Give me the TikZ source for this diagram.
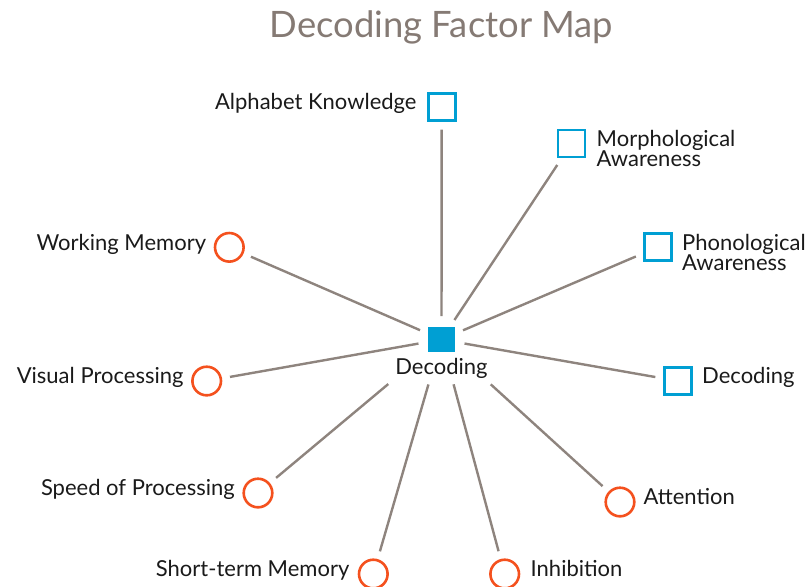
\documentclass[tikz,border=0pt]{standalone}
\usepackage{fontspec}
\setmainfont{Lato}
\usetikzlibrary{positioning}

\definecolor{decblue}{HTML}{009FD3}
\definecolor{facorange}{HTML}{F4511E}
\definecolor{linkgray}{HTML}{8E847E}
\definecolor{titlegray}{HTML}{857A74}
\definecolor{textblack}{HTML}{1A1A1A}

\tikzset{
    factsq/.style={draw=decblue, line width=1.3pt, fill=white, minimum size=13.5pt, inner sep=0pt},
    factci/.style={circle, draw=facorange, line width=1.3pt, fill=white, minimum size=14.3pt, inner sep=0pt},
    lbl/.style={font=\fontsize{11}{9.9}\selectfont, text=textblack, inner sep=0pt},
    link/.style={linkgray, line width=1.2pt, shorten <=4pt},
}

\begin{document}
\begin{tikzpicture}[x=0.5pt, y=-0.5pt]
    \useasboundingbox (0,0) rectangle (812,586);

    \node[font=\fontsize{18.2}{22}\selectfont, text=titlegray, anchor=base] (title) at (441.5,37.5) {Decoding Factor Map};

    % centre
    \node[circle, minimum size=23pt, inner sep=0pt] (hub) at (441.5,339.5) {};
    \node[fill=decblue, minimum width=13.5pt, minimum height=12.5pt, inner sep=0pt] (sq) at (hub) {};
    \node[lbl, below=2.6pt of sq] (hublbl) {Decoding};

    % squares
    \node[factsq, label={[lbl, anchor=base east, xshift=-5pt, yshift=-1.35pt]west:Alphabet Knowledge}] (ak) at (441.7,106.7) {};
    \node[factsq, label={[lbl, align=left, anchor=north west, xshift=5pt, yshift=-0.8pt]north east:Morphological\\Awareness}] (ms) at (571.5,143.5) {};
    \node[factsq, label={[lbl, align=left, anchor=north west, xshift=4.5pt, yshift=-0.8pt]north east:Phonological\\Awareness}] (pa) at (658,247) {};
    \node[factsq, label={[lbl, anchor=base west, xshift=4.5pt, yshift=-1.35pt]east:Decoding}] (dc) at (678,381) {};

    % circles
    \node[factci, label={[lbl, anchor=base east, xshift=-3.6pt, yshift=-1.35pt]west:Working Memory}] (wm) at (229.3,247.3) {};
    \node[factci, label={[lbl, anchor=base east, xshift=-3.6pt, yshift=-1.35pt]west:Visual Processing}] (vp) at (206.7,381) {};
    \node[factci, label={[lbl, anchor=base east, xshift=-3.6pt, yshift=-1.35pt]west:Speed of Processing}] (sp) at (258,493) {};
    \node[factci, label={[lbl, anchor=base east, xshift=-4pt, yshift=-1.35pt]west:Short-term Memory}] (st) at (373.3,574) {};
    \node[factci, label={[lbl, anchor=base west, xshift=5pt, yshift=-1.35pt]east:Inhibition}] (ih) at (504.7,574) {};
    \node[factci, label={[lbl, anchor=base west, xshift=3.8pt, yshift=-1.35pt]east:Attention}] (at) at (620,502) {};

    \foreach \n in {ak, ms, pa, dc, wm, vp}
        \draw[link] (\n) -- (hub);
    \draw[link, shorten >=23pt] (sp) -- (hub);
    \draw[link, shorten >=11.7pt] (st) -- (hub);
    \draw[link, shorten >=11.5pt] (ih) -- (hub);
    \draw[link, shorten >=21.6pt] (at) -- (hub);
\end{tikzpicture}
\end{document}
